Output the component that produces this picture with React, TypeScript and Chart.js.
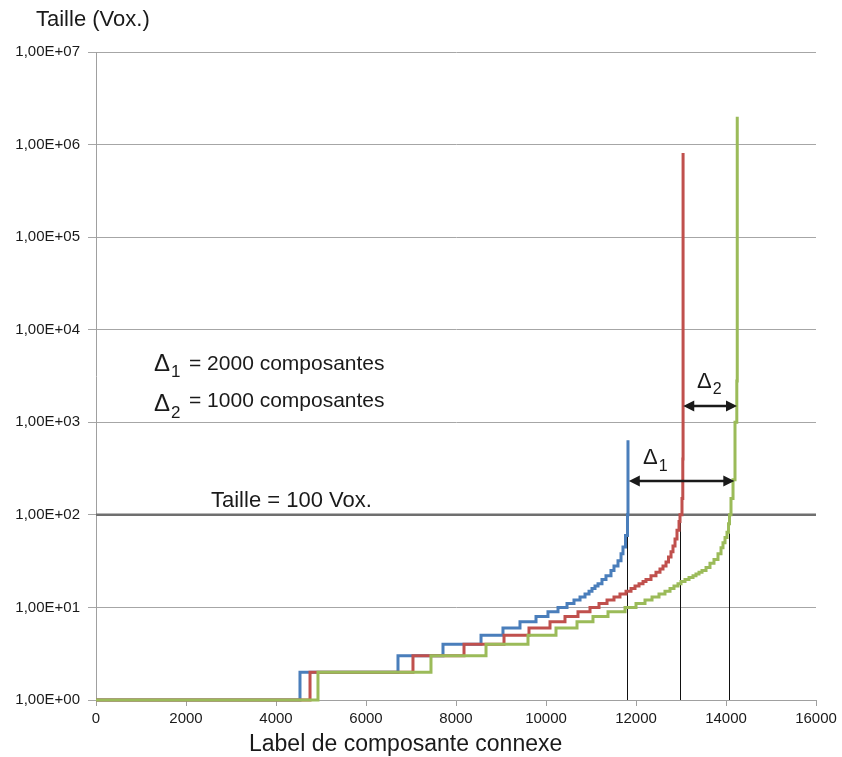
import React, { useEffect, useRef } from 'react';
import { Chart, registerables } from 'chart.js';

Chart.register(...registerables);

const FONT = '"Liberation Sans", Arial, sans-serif';

// Tick values
const xTickValues = [0, 2000, 4000, 6000, 8000, 10000, 12000, 14000, 16000];
const yTickValues = [1, 10, 100, 1000, 10000, 100000, 1000000, 10000000];

// Series: component label (x) where the size (y) reaches each level
const blueSizes = [1, 2, 3, 4, 5, 6, 7, 8, 9, 10, 11, 12, 13, 14, 15, 16, 17, 18, 20, 22, 25, 28, 32, 38, 45, 60, 100, 640];
const blueLabels = [0, 4533, 6711, 7711, 8556, 9044, 9422, 9778, 10044, 10267, 10467, 10622, 10756, 10867, 10956, 11022, 11089, 11156, 11244, 11333, 11444, 11511, 11600, 11667, 11711, 11767, 11811, 11822];

const redSizes = [1, 2, 3, 4, 5, 6, 7, 8, 9, 10, 11, 12, 13, 14, 15, 16, 17, 18, 19, 20, 22, 24, 26, 28, 31, 35, 40, 46, 55, 68, 85, 100, 150, 400, 810000];
const redLabels = [0, 4756, 7044, 8178, 9067, 9622, 10089, 10422, 10711, 10978, 11178, 11356, 11511, 11644, 11778, 11889, 11978, 12067, 12156, 12222, 12333, 12444, 12533, 12600, 12667, 12722, 12778, 12822, 12867, 12911, 12956, 12978, 13022, 13040, 13046];

const greenSizes = [1, 2, 3, 4, 5, 6, 7, 8, 9, 10, 11, 12, 13, 14, 15, 16, 17, 18, 19, 20, 21, 22, 23, 24, 25, 27, 30, 33, 38, 44, 50, 57, 65, 80, 100, 150, 240, 1000, 2800, 2000000];
const greenLabels = [0, 4933, 7444, 8667, 9600, 10222, 10689, 11044, 11378, 11756, 12000, 12200, 12356, 12511, 12644, 12756, 12844, 12933, 13000, 13089, 13178, 13267, 13333, 13400, 13467, 13556, 13644, 13733, 13822, 13889, 13933, 13978, 14022, 14056, 14078, 14111, 14156, 14200, 14240, 14250];

// Annotations
const thresholdSize = 100;
const thresholdCrossings = [11810, 12985, 14065];
const arrowStarts = [11840, 13050];
const arrowEnds = [14185, 14245];
const arrowLevels = [232, 1500];

const COLORS = { blue: '#4a7ebb', red: '#c0504d', green: '#9bbb59' };
const TEXT = '#1a1a1a';

function fmtSci(v: number): string {
  const e = Math.round(Math.log10(v));
  return '1,00E+' + String(e).padStart(2, '0');
}

function pts(xs: number[], ys: number[]) {
  return xs.map((x, i) => ({ x, y: ys[i] }));
}

function txt(ctx: CanvasRenderingContext2D, s: string, x: number, y: number, size: number): number {
  ctx.font = `${size}px ${FONT}`;
  ctx.fillText(s, x, y);
  return ctx.measureText(s).width;
}

// Delta symbol followed by a lowered subscript
function delta(ctx: CanvasRenderingContext2D, sub: string, x: number, y: number, size: number, subSize: number, drop: number) {
  const w = txt(ctx, '\u0394', x, y, size);
  txt(ctx, sub, x + w + 1, y + drop, subSize);
}

function arrowHead(ctx: CanvasRenderingContext2D, tipX: number, y: number, dir: number) {
  const len = 11;
  const half = 5.5;
  ctx.beginPath();
  ctx.moveTo(tipX, y);
  ctx.lineTo(tipX - dir * len, y - half);
  ctx.lineTo(tipX - dir * len, y + half);
  ctx.closePath();
  ctx.fill();
}

const annotPlugin = {
  id: 'annot',
  beforeDatasetsDraw(chart: any) {
    const { ctx, scales } = chart;
    const x = scales.x;
    const y = scales.y;
    ctx.save();
    ctx.strokeStyle = '#111';
    ctx.lineWidth = 1;
    thresholdCrossings.forEach((v) => {
      const px = Math.round(x.getPixelForValue(v)) + 0.5;
      ctx.beginPath();
      ctx.moveTo(px, y.getPixelForValue(thresholdSize));
      ctx.lineTo(px, y.getPixelForValue(1));
      ctx.stroke();
    });
    ctx.strokeStyle = '#6f6f6f';
    ctx.lineWidth = 2.5;
    const py = y.getPixelForValue(thresholdSize);
    ctx.beginPath();
    ctx.moveTo(x.getPixelForValue(0), py);
    ctx.lineTo(x.getPixelForValue(16000), py);
    ctx.stroke();
    ctx.restore();
  },
  afterDatasetsDraw(chart: any) {
    const { ctx, scales } = chart;
    const x = scales.x;
    const y = scales.y;
    ctx.save();
    ctx.strokeStyle = '#1a1a1a';
    ctx.fillStyle = '#1a1a1a';
    ctx.lineWidth = 2.5;
    arrowLevels.forEach((lvl, i) => {
      const py = y.getPixelForValue(lvl);
      const x0 = x.getPixelForValue(arrowStarts[i]);
      const x1 = x.getPixelForValue(arrowEnds[i]);
      ctx.beginPath();
      ctx.moveTo(x0 + 6, py);
      ctx.lineTo(x1 - 6, py);
      ctx.stroke();
      arrowHead(ctx, x0, py, -1);
      arrowHead(ctx, x1, py, 1);
    });

    ctx.fillStyle = TEXT;
    ctx.textAlign = 'left';
    ctx.textBaseline = 'alphabetic';
    txt(ctx, 'Taille (Vox.)', 36, 26, 22);
    txt(ctx, 'Label de composante connexe', 249, 751, 23);
    delta(ctx, '1', 154, 371, 24, 17, 6);
    txt(ctx, '= 2000 composantes', 189, 370, 21);
    delta(ctx, '2', 154, 411, 24, 17, 7);
    txt(ctx, '= 1000 composantes', 189, 407, 21);
    txt(ctx, 'Taille = 100 Vox.', 211, 507, 22);
    delta(ctx, '1', 643, 464, 22, 16, 7);
    delta(ctx, '2', 697, 388, 22, 16, 6);
    ctx.restore();
  },
};

export default function App() {
  const ref = useRef<HTMLCanvasElement>(null);
  useEffect(() => {
    document.body.style.margin = '0';
    const canvas = ref.current;
    if (!canvas) return;
    const mkDs = (label: string, xs: number[], ys: number[], color: string, order: number) => ({
      label,
      data: pts(xs, ys),
      borderColor: color,
      backgroundColor: color,
      borderWidth: 3,
      pointRadius: 0,
      stepped: 'before' as const,
      fill: false,
      clip: 6,
      order,
    });
    const chart = new Chart(canvas, {
      type: 'line',
      data: {
        datasets: [
          mkDs('Série 1', blueLabels, blueSizes, COLORS.blue, 3),
          mkDs('Série 2', redLabels, redSizes, COLORS.red, 2),
          mkDs('Série 3', greenLabels, greenSizes, COLORS.green, 1),
        ],
      },
      options: {
        animation: false,
        responsive: false,
        devicePixelRatio: 1,
        layout: { padding: { top: 52, right: 26, left: 0, bottom: 0 } },
        plugins: { legend: { display: false }, tooltip: { enabled: false } },
        scales: {
          x: {
            type: 'linear',
            min: 0,
            max: 16000,
            afterBuildTicks: (s: any) => {
              s.ticks = xTickValues.map((v) => ({ value: v }));
            },
            ticks: {
              autoSkip: false,
              maxRotation: 0,
              padding: 4,
              color: TEXT,
              font: { family: FONT, size: 15 },
              callback: (v: any) => String(v),
            },
            grid: { drawOnChartArea: false, drawTicks: true, tickLength: 6, color: '#a0a0a0' },
            border: { color: '#a0a0a0', width: 1 },
            afterFit: (s: any) => {
              s.height = 57;
            },
          },
          y: {
            type: 'logarithmic',
            min: 1,
            max: 10000000,
            afterBuildTicks: (s: any) => {
              s.ticks = yTickValues.map((v) => ({ value: v }));
            },
            ticks: {
              autoSkip: false,
              padding: 8,
              color: TEXT,
              font: { family: FONT, size: 15 },
              callback: (v: any) => fmtSci(Number(v)),
            },
            grid: { color: '#a6a6a6', tickLength: 8, drawTicks: true },
            border: { color: '#a0a0a0', width: 1 },
            afterFit: (s: any) => {
              s.width = 96;
            },
          },
        },
      },
      plugins: [annotPlugin],
    } as any);
    return () => chart.destroy();
  }, []);
  return <canvas ref={ref} width={842} height={757} style={{ display: 'block', width: 842, height: 757 }} />;
}
